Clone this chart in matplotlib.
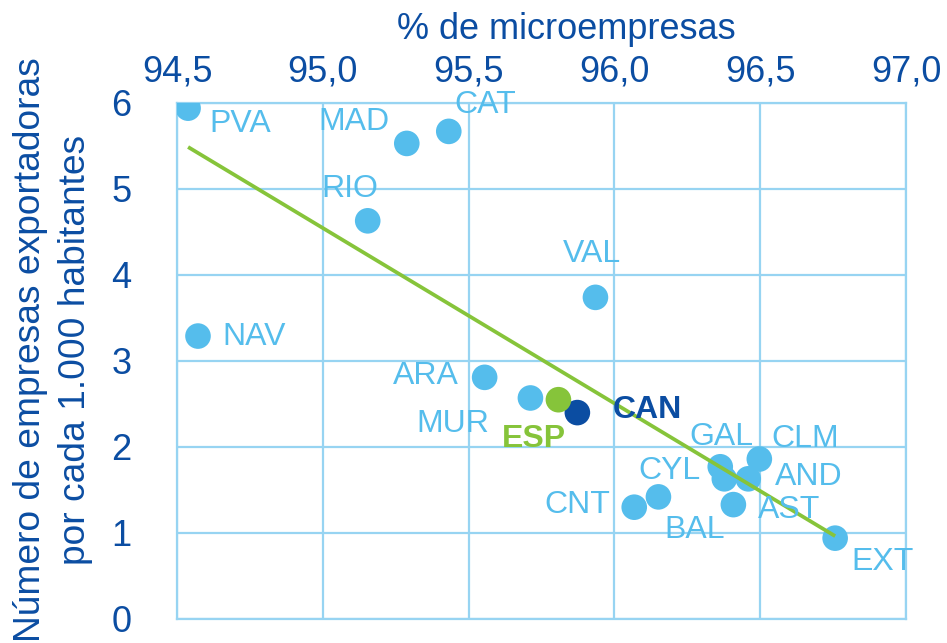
import numpy as np
import matplotlib
matplotlib.use("Agg")
import matplotlib.pyplot as plt

plt.rcParams['font.family'] = ['Liberation Sans', 'DejaVu Sans']

regions = ["PVA", "MAD", "CAT", "RIO", "VAL", "NAV", "ARA", "MUR", "CAN",
           "GAL", "CLM", "AND", "CYL", "AST", "BAL", "CNT", "EXT"]
micro_pct = [94.538, 95.288, 95.432, 95.154, 95.935, 94.572, 95.555, 95.712, 95.873,
             96.363, 96.497, 96.459, 96.377, 96.408, 96.151, 96.068, 96.757]
exporters = [5.94, 5.53, 5.67, 4.63, 3.74, 3.29, 2.81, 2.57, 2.40,
             1.77, 1.86, 1.63, 1.63, 1.33, 1.42, 1.30, 0.94]
esp_x, esp_y = 95.808, 2.55

x_ticks = [94.5, 95.0, 95.5, 96.0, 96.5, 97.0]
x_tick_labels = ["94,5", "95,0", "95,5", "96,0", "96,5", "97,0"]
y_ticks = [0, 1, 2, 3, 4, 5, 6]

# label offsets in pixels (dx right, dy up), baseline anchored
label_offsets = {
    "PVA": (52, -24), "MAD": (-53, 13), "CAT": (36, 18), "RIO": (-18, 24),
    "VAL": (-3, 35), "NAV": (56, -9), "ARA": (-59, -7), "MUR": (-78, -34),
    "CAN": (70, -5), "GAL": (1, 22), "CLM": (46, 12), "AND": (61, -6),
    "CYL": (-55, 0), "AST": (56, -13), "BAL": (36, -41), "CNT": (-57, -6),
    "EXT": (47, -32),
}

LIGHT = "#55BDEC"
GRID = "#97D4F2"
DARK = "#0B4DA2"
GREEN = "#86C43A"

W, H = 947, 643
fig = plt.figure(figsize=(W / 100, H / 100), dpi=100)
ax = fig.add_axes([177 / W, 1 - 619 / H, (906 - 177) / W, (619 - 103) / H])
ax.set_xlim(94.5, 97.0)
ax.set_ylim(0, 6)
ax.set_xticks(x_ticks)
ax.set_xticklabels(x_tick_labels)
ax.set_yticks(y_ticks)
ax.xaxis.tick_top()
ax.tick_params(axis='x', length=0, pad=9.5, labelsize=26, labelcolor=DARK)
ax.tick_params(axis='y', length=0, pad=33, labelsize=26, labelcolor=DARK)
ax.grid(True, color=GRID, linewidth=1.6)
ax.set_axisbelow(True)
for s in ax.spines.values():
    s.set_color(GRID)
    s.set_linewidth(1.6)

# trend line (least squares fit on regions)
coef = np.polyfit(micro_pct, exporters, 1)
xs = np.array([min(micro_pct), max(micro_pct)])
ax.plot(xs, np.polyval(coef, xs), color=GREEN, linewidth=2.7, zorder=4, solid_capstyle='butt')

colors = [DARK if r == "CAN" else LIGHT for r in regions]
ax.scatter(micro_pct, exporters, s=340, c=colors, edgecolors='none', zorder=3)
ax.scatter([esp_x], [esp_y], s=340, c=GREEN, edgecolors='none', zorder=3)

k = 0.72
for r, x, y in zip(regions, micro_pct, exporters):
    dx, dy = label_offsets[r]
    if r == "CAN":
        ax.annotate(r, (x, y), xytext=(dx * k, dy * k), textcoords='offset points',
                    ha='center', va='baseline', fontsize=23, color=DARK,
                    fontweight='bold', zorder=5)
    else:
        ax.annotate(r, (x, y), xytext=(dx * k, dy * k), textcoords='offset points',
                    ha='center', va='baseline', fontsize=23, color=LIGHT, zorder=5)
ax.annotate("ESP", (esp_x, esp_y), xytext=(-24 * k, -47 * k), textcoords='offset points',
            ha='center', va='baseline', fontsize=23, color=GREEN, fontweight='bold', zorder=5)

fig.text(566 / W, 1 - 39 / H, "% de microempresas", ha='center', va='baseline',
         fontsize=26, color=DARK)
fig.text(53 / W, 1 - 350 / H, "Número de empresas exportadoras\npor cada 1.000 habitantes",
         rotation=90, ha='center', va='center', fontsize=26.7, color=DARK,
         multialignment='center', linespacing=1.38)

fig.savefig("out.png", dpi=100)
print(coef)
